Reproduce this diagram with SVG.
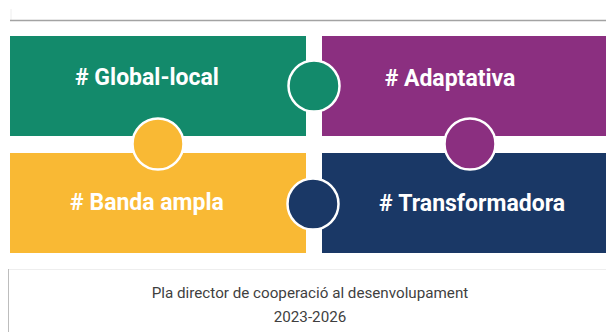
<svg xmlns="http://www.w3.org/2000/svg" width="606" height="332" viewBox="0 0 606 332">
<style>
.lbl{font-family:Roboto,"Liberation Sans",sans-serif;font-weight:700;font-size:23px;fill:#fff;text-anchor:middle}
.ft{font-family:Roboto,"Liberation Sans",sans-serif;font-size:15.2px;fill:#3f3f3f;text-anchor:middle}
.dot{stroke:#fff;stroke-width:2.5}
</style>
<rect width="606" height="332" fill="#fff"/>
<line x1="11" y1="9" x2="11" y2="20" stroke="#eee" stroke-width="1"/>
<line x1="10" y1="20.5" x2="606" y2="20.5" stroke="#a3a3a3" stroke-width="1.5"/>
<g id="global-local">
<rect x="10" y="36" width="296" height="100" fill="#138a6b"/>
<text class="lbl" x="147" y="85">#&#160;Global-local</text>
</g>
<g id="adaptativa">
<rect x="322" y="36" width="284" height="100" fill="#8b2f80"/>
<text class="lbl" x="450" y="86">#&#160;Adaptativa</text>
</g>
<g id="banda-ampla">
<rect x="10" y="153" width="296" height="100" fill="#f9b934"/>
<text class="lbl" x="147" y="210">#&#160;Banda ampla</text>
</g>
<g id="transformadora">
<rect x="322" y="153" width="284" height="100" fill="#1a3866"/>
<text class="lbl" x="472" y="211">#&#160;Transformadora</text>
</g>
<g id="connectors">
<circle class="dot" cx="314" cy="86" r="25.5" fill="#138a6b"/>
<circle class="dot" cx="158" cy="144" r="25.5" fill="#f9b934"/>
<circle class="dot" cx="470" cy="144" r="25.5" fill="#8b2f80"/>
<circle class="dot" cx="313" cy="204" r="25.5" fill="#1a3866"/>
</g>
<g id="footer">
<line x1="8" y1="269.5" x2="606" y2="269.5" stroke="#eeeeee" stroke-width="1"/>
<line x1="8.5" y1="269" x2="8.5" y2="332" stroke="#bdbdbd" stroke-width="1"/>
<text class="ft" x="310" y="298">Pla director de cooperació al desenvolupament</text>
<text class="ft" x="310" y="322">2023-2026</text>
</g>
</svg>
